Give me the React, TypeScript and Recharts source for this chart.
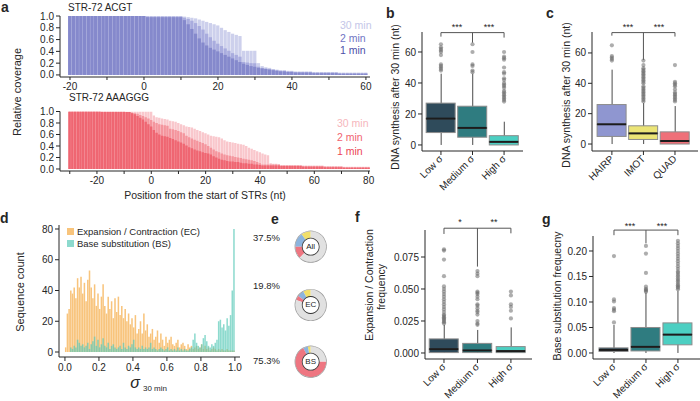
import React from "react";
import {
  ComposedChart,
  Bar,
  XAxis,
  YAxis,
  Scatter,
  ReferenceLine,
  PieChart,
  Pie,
  Cell,
} from "recharts";

const FONT = '"Liberation Sans", Arial, Helvetica, sans-serif';
const INK = "#262626";

// ---- a: relative coverage per position (1 nt bins)
const acgtStart = -20;
const acgtTicks = [-20, -10, 0, 10, 20, 30, 40, 50, 60];
const acgt1min = [
  1, 1, 1, 1, 1, 1, 1, 1, 1, 1, 1, 1, 1, 1, 1, 1, 1, 1, 1, 1,
  1, 0.98, 0.98, 0.98, 0.98, 0.98, 0.98, 0.98, 0.98, 0.98, 0.98,
  0.93, 0.86, 0.78, 0.7, 0.62, 0.55, 0.5, 0.46, 0.43, 0.4,
  0.37, 0.34, 0.31, 0.28, 0.25, 0.22, 0.19, 0.17, 0.15, 0.14,
  0.12, 0.11, 0.1, 0.09, 0.08, 0.07, 0.06, 0.06, 0.05, 0.05,
  0.04, 0.04, 0.04, 0.04, 0.04, 0.03, 0.03, 0.03, 0.03, 0.03,
  0.03, 0.03, 0.02, 0.02, 0.02, 0.02, 0.02, 0.02, 0.02, 0.02,
];
const acgt2min = [
  1, 1, 1, 1, 1, 1, 1, 1, 1, 1, 1, 1, 1, 1, 1, 1, 1, 1, 1, 1,
  1, 0.99, 0.99, 0.99, 0.99, 0.99, 0.99, 0.99, 0.99, 0.99, 0.99,
  0.97, 0.95, 0.92, 0.88, 0.83, 0.77, 0.7, 0.64, 0.58, 0.53,
  0.49, 0.45, 0.41, 0.37, 0.34, 0.31, 0.22, 0.21, 0.2, 0.2,
  0.14, 0.12, 0.11, 0.1, 0.09, 0.08, 0.07, 0.07, 0.06, 0.06,
  0.05, 0.05, 0.05, 0.05, 0.05, 0.04, 0.04, 0.04, 0.04, 0.04,
  0.04, 0.04, 0.03, 0.03, 0.03, 0.03, 0.03, 0.03, 0.03, 0.03,
];
const acgt30min = [
  1, 1, 1, 1, 1, 1, 1, 1, 1, 1, 1, 1, 1, 1, 1, 1, 1, 1, 1, 1,
  1, 1, 1, 1, 1, 1, 1, 1, 1, 1, 1,
  0.99, 0.98, 0.97, 0.96, 0.94, 0.92, 0.9, 0.88, 0.86, 0.84,
  0.8, 0.76, 0.73, 0.7, 0.68, 0.66, 0.41, 0.41, 0.41, 0.41,
  0.2, 0.15, 0.13, 0.12, 0.1, 0.09, 0.08, 0.08, 0.07, 0.07,
  0.06, 0.06, 0.06, 0.06, 0.06, 0.05, 0.05, 0.05, 0.05, 0.05,
  0.05, 0.05, 0.04, 0.04, 0.04, 0.04, 0.04, 0.04, 0.04, 0.04,
];

const aaagggStart = -30;
const aaagggTicks = [-30, -20, -10, 0, 10, 20, 30, 40, 50, 60, 70, 80];
const aaaggg1min = [
  1, 1, 1, 1, 1, 1, 1, 1, 1, 1, 1, 1,
  0.99, 0.99, 0.99, 0.99, 0.99, 0.99, 0.99, 0.99, 0.99, 0.99, 0.99,
  0.97, 0.95, 0.92, 0.89, 0.86, 0.82, 0.78, 0.74,
  0.68, 0.63, 0.6, 0.58, 0.57, 0.56, 0.54, 0.52, 0.5, 0.48,
  0.46, 0.44, 0.41, 0.38, 0.36, 0.34, 0.32, 0.31, 0.29, 0.28,
  0.27, 0.25, 0.22, 0.2, 0.18, 0.16, 0.15, 0.14, 0.13, 0.13,
  0.12, 0.12, 0.11, 0.1, 0.1, 0.09, 0.09, 0.08, 0.08, 0.07,
  0.06, 0.06, 0.06, 0.06, 0.06, 0.06, 0.06, 0.05, 0.05, 0.05,
  0.05, 0.05, 0.05, 0.05, 0.05, 0.04, 0.04, 0.04, 0.04, 0.04,
  0.04, 0.04, 0.04, 0.03, 0.03, 0.03, 0.03, 0.03, 0.03, 0.03,
  0.02, 0.02, 0.02, 0.02, 0.02, 0.02, 0.02, 0.02, 0.02, 0.02,
];
const aaaggg2min = [
  1, 1, 1, 1, 1, 1, 1, 1, 1, 1, 1, 1, 1, 1, 1, 1, 1, 1, 1, 1, 1,
  0.99, 0.99, 0.98, 0.97, 0.96, 0.94, 0.92, 0.9, 0.88, 0.85,
  0.82, 0.8, 0.78, 0.77, 0.76, 0.75, 0.7, 0.69, 0.68, 0.66,
  0.64, 0.62, 0.58, 0.55, 0.53, 0.51, 0.49, 0.47, 0.45, 0.43,
  0.4, 0.37, 0.34, 0.31, 0.29, 0.27, 0.25, 0.24, 0.23, 0.22,
  0.21, 0.2, 0.19, 0.18, 0.17, 0.16, 0.15, 0.14, 0.12, 0.1,
  0.08, 0.08, 0.08, 0.08, 0.08, 0.08, 0.08, 0.06, 0.06, 0.06,
  0.06, 0.06, 0.06, 0.06, 0.06, 0.05, 0.05, 0.05, 0.05, 0.05,
  0.05, 0.05, 0.05, 0.04, 0.04, 0.04, 0.04, 0.04, 0.04, 0.04,
  0.03, 0.03, 0.03, 0.03, 0.03, 0.03, 0.03, 0.03, 0.03, 0.03,
];
const aaaggg30min = [
  1, 1, 1, 1, 1, 1, 1, 1, 1, 1, 1, 1, 1, 1, 1, 1, 1, 1, 1, 1,
  1, 1, 1, 1, 1, 1, 1, 1, 1, 1, 1,
  0.93, 0.9, 0.89, 0.88, 0.87, 0.86, 0.84, 0.83, 0.82, 0.8,
  0.78, 0.76, 0.74, 0.73, 0.72, 0.7, 0.68, 0.66, 0.64, 0.62,
  0.6, 0.58, 0.57, 0.56, 0.55, 0.53, 0.5, 0.48, 0.47, 0.46,
  0.45, 0.44, 0.43, 0.42, 0.4, 0.37, 0.35, 0.33, 0.31, 0.29,
  0.27, 0.25, 0.24, 0.1, 0.09, 0.09, 0.08, 0.07, 0.07, 0.07,
  0.07, 0.07, 0.07, 0.07, 0.07, 0.06, 0.06, 0.06, 0.06, 0.06,
  0.06, 0.06, 0.06, 0.05, 0.05, 0.05, 0.05, 0.05, 0.05, 0.05,
  0.04, 0.04, 0.04, 0.04, 0.04, 0.04, 0.04, 0.04, 0.04, 0.04,
];
const covTicks = [0, 0.2, 0.4, 0.6, 0.8, 1];

// ---- d: histogram of sigma (0.01 bins)
const sigmaBin = 0.01;
const sigmaTicks = [0, 0.2, 0.4, 0.6, 0.8, 1];
const countTicks = [0, 20, 40, 60, 80];
const ecCounts = [
  3, 25, 28, 40, 38, 42, 35, 48, 42, 49,
  38, 45, 33, 47, 53, 42, 35, 44, 30, 38,
  28, 36, 44, 30, 25, 36, 28, 33, 22, 35,
  26, 36, 24, 30, 22, 28, 20, 25, 18, 22,
  16, 24, 12, 15, 20, 12, 25, 14, 18, 10,
  12, 15, 8, 10, 14, 6, 12, 8, 4, 10,
  6, 8, 10, 5, 4, 6, 8, 3, 5, 6,
  4, 2, 5, 3, 4, 2, 3, 4, 2, 3,
  5, 2, 4, 2, 3, 1, 2, 3, 2, 1,
  2, 1, 2, 1, 1, 2, 1, 1, 1, 1,
];
const bsCounts = [
  0, 0, 0, 3, 2, 4, 3, 8, 6, 4,
  5, 3, 4, 6, 2, 5, 7, 10, 4, 8,
  3, 5, 9, 4, 3, 6, 2, 4, 5, 3,
  2, 3, 4, 2, 6, 3, 2, 4, 3, 5,
  8, 3, 2, 3, 2, 4, 2, 3, 2, 3,
  6, 2, 3, 2, 1, 2, 3, 2, 1, 2,
  3, 1, 2, 1, 2, 1, 3, 1, 2, 1,
  2, 1, 1, 2, 3, 8, 12, 6, 4, 3,
  5, 9, 11, 7, 4, 3, 5, 4, 6, 8,
  20, 21, 16, 18, 14, 22, 17, 24, 40, 80,
];

// ---- e: donuts (yellow, blue, red, grey share in %)
const donutColors = ["#f1df6a", "#8cb4de", "#ee7681", "#e1e1e1"];
const donutNames = ["All", "EC", "BS"];
const donutPct = ["37.5%", "19.8%", "75.3%"];
const donutAll = [10, 15, 12.5, 62.5];
const donutEC = [8, 7, 4.8, 80.2];
const donutBS = [3, 5, 67.3, 24.7];

// ---- b, c, f, g: box stats as [low whisker, q1, median, q3, high whisker]
const sigmaNames = ["Low σ", "Medium σ", "High σ"];
const sigmaColors = ["#2f4b5b", "#2f7c80", "#4ccfc2"];
const structNames = ["HAIRP", "IMOT", "QUAD"];
const structColors = ["#8f96d0", "#ebe476", "#ef7079"];

const synthLow = [0, 8, 17, 27, 46];
const synthMedium = [0, 5, 11, 25, 46];
const synthHigh = [0, 0, 2, 6, 15];
const synthLowOut = [48, 49, 50, 51, 52, 58, 60, 61, 62, 63, 65];
const synthMediumOut = [47, 48, 51, 52, 60, 65];
const synthHighOut = [28, 29, 30, 31, 32, 33, 34, 35, 37, 38, 39, 40, 42, 43, 46, 47, 50, 55, 56, 57, 60];

const hairp = [0, 5, 13, 26, 49];
const imot = [0, 3, 7, 12, 27];
const quad = [0, 0, 2, 8, 25];
const hairpOut = [55, 56, 57, 58, 65];
const imotOut = [28, 29, 30, 31, 32, 33, 34, 35, 36, 37, 38, 40, 41, 42, 43, 44, 45, 46, 47, 48, 49, 50, 52, 55];
const quadOut = [28, 29, 30, 31, 32, 33, 34, 36, 38, 39, 40, 41, 52];

const ecLow = [0, 0.0003, 0.003, 0.011, 0.022];
const ecMedium = [0, 0.0003, 0.002, 0.0075, 0.018];
const ecHigh = [0, 0.0003, 0.0015, 0.005, 0.02];
const ecLowOut = [0.023, 0.024, 0.025, 0.026, 0.027, 0.028, 0.029, 0.03, 0.032, 0.034, 0.036, 0.038, 0.04, 0.042, 0.044, 0.046, 0.048, 0.05, 0.052, 0.06, 0.073, 0.08, 0.081];
const ecMediumOut = [0.022, 0.023, 0.025, 0.03, 0.032, 0.033, 0.035, 0.037, 0.038, 0.042, 0.044, 0.046, 0.047, 0.048, 0.06, 0.062, 0.064];
const ecHighOut = [0.027, 0.033, 0.036, 0.038, 0.045, 0.048];

const bsLow = [0, 0.003, 0.006, 0.01, 0.055];
const bsMedium = [0, 0.004, 0.012, 0.05, 0.118];
const bsHigh = [0, 0.016, 0.036, 0.059, 0.122];
const bsLowOut = [0.06, 0.082, 0.085, 0.088, 0.101, 0.105, 0.19];
const bsMediumOut = [0.12, 0.122, 0.124, 0.126, 0.13, 0.157, 0.195, 0.21];
const bsHighOut = [0.125, 0.128, 0.13, 0.133, 0.136, 0.14, 0.143, 0.146, 0.15, 0.153, 0.157, 0.16, 0.165, 0.17, 0.175, 0.18, 0.185, 0.19, 0.195, 0.2, 0.205, 0.21, 0.215, 0.22];

// ---------- helpers
function coverageRows(start: number, m1: number[], m2: number[], m30: number[]) {
  return m1.map((v, i) => ({ pos: start + i, m1: v, m2: m2[i], m30: m30[i] }));
}

function boxRows(stats: number[][], colors: string[]) {
  return stats.map(([lo, q1, med, q3, hi], i) => ({
    x: i + 1,
    base: q1,
    lower: med - q1,
    upper: q3 - med,
    whisker: [lo, hi],
    color: colors[i],
  }));
}

function outlierRows(groups: number[][]) {
  return groups.flatMap((vals, i) => vals.map((v) => ({ x: i + 1, v })));
}

const axisStyle = { stroke: INK };
const tickStyle = { fontSize: 10, fill: INK, fontFamily: FONT };

function Txt({ x, y, text, size = 10, color = INK, align = "start", bold = false, italic = false, rotate = false }: any) {
  const tx = align === "start" ? "0" : align === "end" ? "-100%" : "-50%";
  const transform = rotate ? "translate(-50%,-50%) rotate(-90deg)" : `translate(${tx},-50%)`;
  return (
    <div
      style={{
        position: "absolute",
        left: x,
        top: y,
        transform,
        fontSize: size,
        color,
        fontWeight: bold ? 700 : 400,
        fontStyle: italic ? "italic" : "normal",
        whiteSpace: "nowrap",
        lineHeight: 1,
        fontFamily: FONT,
      }}
    >
      {text}
    </div>
  );
}

function CoveragePanel({ top, height, marginTop, xHeight, rows, domain, ticks, barSize, colors }: any) {
  return (
    <div style={{ position: "absolute", left: 0, top, width: 380, height }}>
      <ComposedChart width={380} height={height} data={rows} margin={{ top: marginTop, right: 10, bottom: 0, left: 0 }}>
        <XAxis
          type="number"
          dataKey="pos"
          domain={domain}
          ticks={ticks}
          interval={0}
          allowDataOverflow
          tickFormatter={(v: number) => (v % 20 === 0 ? String(v) : "")}
          height={xHeight}
          tickSize={3}
          tickMargin={3}
          axisLine={axisStyle}
          tickLine={axisStyle}
          tick={tickStyle}
        />
        <XAxis xAxisId="m30" type="number" dataKey="pos" domain={domain} allowDataOverflow hide />
        <XAxis xAxisId="m2" type="number" dataKey="pos" domain={domain} allowDataOverflow hide />
        <YAxis
          domain={[-0.035, 1]}
          ticks={covTicks}
          interval={0}
          allowDataOverflow
          tickFormatter={(v: number) => v.toFixed(1)}
          width={60}
          tickSize={4}
          axisLine={axisStyle}
          tickLine={axisStyle}
          tick={tickStyle}
        />
        <Bar xAxisId="m30" dataKey="m30" fill={colors[0]} barSize={barSize} isAnimationActive={false} />
        <Bar xAxisId="m2" dataKey="m2" fill={colors[1]} barSize={barSize} isAnimationActive={false} />
        <Bar dataKey="m1" fill={colors[2]} barSize={barSize} isAnimationActive={false} />
      </ComposedChart>
    </div>
  );
}

const WhiskerShape = (p: any) => {
  const cx = p.x + p.width / 2;
  const y1 = Math.min(p.y, p.y + p.height);
  const y2 = Math.max(p.y, p.y + p.height);
  return <line x1={cx} x2={cx} y1={y1} y2={y2} stroke="#4a4a4a" strokeWidth={1} />;
};

const BoxLowerShape = (p: any) => (
  <rect x={p.x} y={p.y} width={p.width} height={Math.abs(p.height)} fill={p.payload.color} stroke="#8c8c8c" strokeWidth={1} />
);

const BoxUpperShape = (p: any) => (
  <g>
    <rect x={p.x} y={p.y} width={p.width} height={Math.abs(p.height)} fill={p.payload.color} stroke="#8c8c8c" strokeWidth={1} />
    <line x1={p.x} x2={p.x + p.width} y1={p.y + p.height} y2={p.y + p.height} stroke="#1c1c1c" strokeWidth={2} />
  </g>
);

const OutlierDot = (p: any) => <circle cx={p.cx} cy={p.cy} r={2.1} fill="#6a6a6a" fillOpacity={0.55} />;

function SlantTick({ x, y, payload, names }: any) {
  return (
    <text
      x={x}
      y={y}
      dy="0.35em"
      textAnchor="end"
      transform={`rotate(-45 ${x} ${y})`}
      fontSize={10}
      fill={INK}
      fontFamily={FONT}
    >
      {names[payload.value - 1]}
    </text>
  );
}

function BoxPanel({ left, top, width, height, marginTop, marginRight, yWidth, xHeight, yDomain, yTicks, yFmt, xDomain, rows, outliers, names, bracketY, drops }: any) {
  const seg = (x1: number, y1: number, x2: number, y2: number) => (
    <ReferenceLine
      key={`${x1}-${y1}-${x2}-${y2}`}
      segment={[{ x: x1, y: y1 }, { x: x2, y: y2 }]}
      stroke="#555"
      strokeWidth={1}
      ifOverflow="visible"
    />
  );
  return (
    <div style={{ position: "absolute", left, top, width, height }}>
      <ComposedChart width={width} height={height} data={rows} margin={{ top: marginTop, right: marginRight, bottom: 0, left: 0 }}>
        <XAxis
          type="number"
          dataKey="x"
          domain={xDomain}
          ticks={[1, 2, 3]}
          interval={0}
          allowDataOverflow
          height={xHeight}
          tickSize={4}
          axisLine={axisStyle}
          tickLine={axisStyle}
          tick={(p: any) => <SlantTick {...p} names={names} />}
        />
        <XAxis xAxisId="w" type="number" dataKey="x" domain={xDomain} allowDataOverflow hide />
        <YAxis
          domain={yDomain}
          ticks={yTicks}
          interval={0}
          allowDataOverflow
          tickFormatter={yFmt}
          width={yWidth}
          tickSize={4}
          axisLine={axisStyle}
          tickLine={axisStyle}
          tick={tickStyle}
        />
        <Bar xAxisId="w" dataKey="whisker" barSize={4} shape={WhiskerShape} isAnimationActive={false} />
        <Bar dataKey="base" stackId="box" barSize={29} fill="none" isAnimationActive={false} />
        <Bar dataKey="lower" stackId="box" barSize={29} shape={BoxLowerShape} isAnimationActive={false} />
        <Bar dataKey="upper" stackId="box" barSize={29} shape={BoxUpperShape} isAnimationActive={false} />
        <Scatter data={outliers} dataKey="v" shape={OutlierDot} isAnimationActive={false} />
        {seg(1, bracketY, 3, bracketY)}
        {seg(1, bracketY, 1, bracketY - drops[0])}
        {seg(2, bracketY, 2, bracketY - drops[1])}
        {seg(3, bracketY, 3, bracketY - drops[2])}
      </ComposedChart>
    </div>
  );
}

function FullRing({ cx, cy, inner, outer, fill }: any) {
  return (
    <Pie
      data={[{ v: 1 }]}
      dataKey="v"
      cx={cx}
      cy={cy}
      innerRadius={inner}
      outerRadius={outer}
      fill={fill}
      stroke="none"
      isAnimationActive={false}
    />
  );
}

export default function App() {
  const acgtRows = coverageRows(acgtStart, acgt1min, acgt2min, acgt30min);
  const aaagggRows = coverageRows(aaagggStart, aaaggg1min, aaaggg2min, aaaggg30min);
  const histRows = ecCounts.map((c, i) => ({ mid: (i + 0.5) * sigmaBin, ec: c, bs: bsCounts[i] }));
  const donuts = [donutAll, donutEC, donutBS];
  const donutCy = [21.7, 80, 136.7];

  return (
    <div style={{ position: "absolute", left: 0, top: 0, width: 700, height: 401, background: "#fff", overflow: "hidden", fontFamily: FONT }}>
      {/* a */}
      <CoveragePanel
        top={0}
        height={95}
        marginTop={16}
        xHeight={18}
        rows={acgtRows}
        domain={[-22.7, 61.1]}
        ticks={acgtTicks}
        barSize={3.3}
        colors={["#cdd0ec", "#a9acde", "#8589cc"]}
      />
      <CoveragePanel
        top={95}
        height={96}
        marginTop={16.5}
        xHeight={20}
        rows={aaagggRows}
        domain={[-33.6, 80.5]}
        ticks={aaagggTicks}
        barSize={2.4}
        colors={["#f9c7cc", "#f4959d", "#ef6672"]}
      />
      <Txt x={1} y={7} text="a" size={14} bold />
      <Txt x={68} y={8} text="STR-72 ACGT" size={10} />
      <Txt x={69} y={98} text="STR-72 AAAGGG" size={10} />
      <Txt x={340} y={25} text="30 min" size={10.5} color="#c4c6e8" />
      <Txt x={340} y={37.5} text="2 min" size={10.5} color="#7074c4" />
      <Txt x={340} y={50} text="1 min" size={10.5} color="#4b50a8" />
      <Txt x={337} y={123} text="30 min" size={10.5} color="#f6b6bc" />
      <Txt x={337} y={137} text="2 min" size={10.5} color="#f1636f" />
      <Txt x={337} y={150.5} text="1 min" size={10.5} color="#ec4654" />
      <Txt x={205} y={195} text="Position from the start of STRs (nt)" size={10.5} align="middle" />
      <Txt x={17} y={92} text="Relative coverage" size={11} rotate />

      {/* b */}
      <BoxPanel
        left={370}
        top={0}
        width={160}
        height={210}
        marginTop={32}
        marginRight={7}
        yWidth={52}
        xHeight={59}
        yDomain={[-3.9, 72.9]}
        yTicks={[0, 20, 40, 60]}
        yFmt={(v: number) => String(v)}
        xDomain={[0.4, 3.6]}
        rows={boxRows([synthLow, synthMedium, synthHigh], sigmaColors)}
        outliers={outlierRows([synthLowOut, synthMediumOut, synthHighOut])}
        names={sigmaNames}
        bracketY={72.5}
        drops={[2.6, 6.5, 3.2]}
      />
      <Txt x={386} y={13} text="b" size={14} bold />
      <Txt x={395} y={97} text="DNA synthesis after 30 min (nt)" size={10.5} rotate />
      <Txt x={457} y={27} text="***" size={9} align="middle" />
      <Txt x={489} y={27} text="***" size={9} align="middle" />

      {/* c */}
      <BoxPanel
        left={535}
        top={0}
        width={165}
        height={210}
        marginTop={32}
        marginRight={2}
        yWidth={57}
        xHeight={59}
        yDomain={[-4.6, 73.8]}
        yTicks={[0, 20, 40, 60]}
        yFmt={(v: number) => String(v)}
        xDomain={[0.37, 3.73]}
        rows={boxRows([hairp, imot, quad], structColors)}
        outliers={outlierRows([hairpOut, imotOut, quadOut])}
        names={structNames}
        bracketY={73.4}
        drops={[2, 18, 2.6]}
      />
      <Txt x={546} y={13} text="c" size={14} bold />
      <Txt x={566} y={95} text="DNA synthesis after 30 min (nt)" size={10.5} rotate />
      <Txt x={628} y={27} text="***" size={9} align="middle" />
      <Txt x={659} y={27} text="***" size={9} align="middle" />

      {/* d */}
      <div style={{ position: "absolute", left: 0, top: 215, width: 250, height: 186 }}>
        <ComposedChart width={250} height={186} data={histRows} margin={{ top: 10, right: 10, bottom: 24, left: 0 }}>
          <XAxis
            type="number"
            dataKey="mid"
            domain={[-0.035, 1.03]}
            ticks={sigmaTicks}
            interval={0}
            allowDataOverflow
            tickFormatter={(v: number) => v.toFixed(1)}
            height={20}
            tickSize={4}
            tickMargin={3}
            axisLine={axisStyle}
            tickLine={axisStyle}
            tick={tickStyle}
          />
          <XAxis xAxisId="bs" type="number" dataKey="mid" domain={[-0.035, 1.03]} allowDataOverflow hide />
          <YAxis
            domain={[-3.25, 82.6]}
            ticks={countTicks}
            interval={0}
            allowDataOverflow
            width={59}
            tickSize={4}
            axisLine={axisStyle}
            tickLine={axisStyle}
            tick={tickStyle}
          />
          <Bar dataKey="ec" fill="#f8c47c" barSize={2} isAnimationActive={false} />
          <Bar xAxisId="bs" dataKey="bs" fill="#5ccab9" fillOpacity={0.7} barSize={1.8} isAnimationActive={false} />
        </ComposedChart>
      </div>
      <Txt x={0} y={218} text="d" size={14} bold />
      <Txt x={20} y={292} text="Sequence count" size={11} rotate />
      <div style={{ position: "absolute", left: 67, top: 228, width: 7, height: 7, background: "#f8c47c" }} />
      <div style={{ position: "absolute", left: 67, top: 240, width: 7, height: 7, background: "#8ddace" }} />
      <Txt x={77} y={231.5} text="Expansion / Contraction (EC)" size={9.5} />
      <Txt x={77} y={243.5} text="Base substitution (BS)" size={9.5} />
      <Txt x={135} y={383} text="σ" size={16} italic align="middle" />
      <Txt x={143} y={389} text="30 min" size={8} />

      {/* e */}
      <Txt x={271} y={219} text="e" size={14} bold />
      <div style={{ position: "absolute", left: 290, top: 225, width: 45, height: 160 }}>
        <PieChart width={45} height={160} margin={{ top: 0, right: 0, bottom: 0, left: 0 }}>
          {donuts.map((vals, k) => (
            <Pie
              key={`ring${k}`}
              data={vals.map((v) => ({ v }))}
              dataKey="v"
              cx={20.7}
              cy={donutCy[k]}
              innerRadius={8.6}
              outerRadius={15.5}
              startAngle={90}
              endAngle={450}
              stroke="none"
              isAnimationActive={false}
            >
              {vals.map((_, i) => (
                <Cell key={i} fill={donutColors[i]} />
              ))}
            </Pie>
          ))}
          {donuts.map((_, k) => FullRing({ cx: 20.7, cy: donutCy[k], inner: 15.4, outer: 16.1, fill: "#9c9c9c" }))}
          {donuts.map((_, k) => FullRing({ cx: 20.7, cy: donutCy[k], inner: 0, outer: 8.3, fill: "#ffffff" }))}
          {donuts.map((_, k) => FullRing({ cx: 20.7, cy: donutCy[k], inner: 8.1, outer: 8.9, fill: "#333333" }))}
        </PieChart>
      </div>
      {donutNames.map((n, k) => (
        <Txt key={n} x={310.7} y={225 + donutCy[k]} text={n} size={8} align="middle" />
      ))}
      {donutPct.map((t, k) => (
        <Txt key={t} x={280} y={[238, 286, 361][k]} text={t} size={9.5} align="end" />
      ))}

      {/* f */}
      <BoxPanel
        left={390}
        top={215}
        width={145}
        height={186}
        marginTop={15}
        marginRight={3}
        yWidth={35}
        xHeight={42}
        yDomain={[-0.0047, 0.0961]}
        yTicks={[0, 0.025, 0.05, 0.075]}
        yFmt={(v: number) => v.toFixed(3)}
        xDomain={[0.433, 3.63]}
        rows={boxRows([ecLow, ecMedium, ecHigh], sigmaColors)}
        outliers={outlierRows([ecLowOut, ecMediumOut, ecHighOut])}
        names={sigmaNames}
        bracketY={0.0975}
        drops={[0.0045, 0.03, 0.004]}
      />
      <Txt x={355} y={217} text="f" size={14} bold />
      <Txt x={368.5} y={285} text="Expansion / Contraction" size={10.5} rotate />
      <Txt x={380.5} y={287} text="frequency" size={10.5} rotate />
      <Txt x={460} y={222} text="*" size={9} align="middle" />
      <Txt x={494} y={222} text="**" size={9} align="middle" />

      {/* g */}
      <BoxPanel
        left={545}
        top={215}
        width={155}
        height={186}
        marginTop={21}
        marginRight={0}
        yWidth={48}
        xHeight={42}
        yDomain={[-0.0118, 0.2294]}
        yTicks={[0, 0.05, 0.1, 0.15, 0.2]}
        yFmt={(v: number) => v.toFixed(2)}
        xDomain={[0.344, 3.69]}
        rows={boxRows([bsLow, bsMedium, bsHigh], sigmaColors)}
        outliers={outlierRows([bsLowOut, bsMediumOut, bsHighOut])}
        names={sigmaNames}
        bracketY={0.241}
        drops={[0.01, 0.026, 0.01]}
      />
      <Txt x={542} y={219} text="g" size={14} bold />
      <Txt x={557} y={296} text="Base substitution frequecny" size={10.5} rotate />
      <Txt x={630} y={226} text="***" size={9} align="middle" />
      <Txt x={662} y={226} text="***" size={9} align="middle" />
    </div>
  );
}
